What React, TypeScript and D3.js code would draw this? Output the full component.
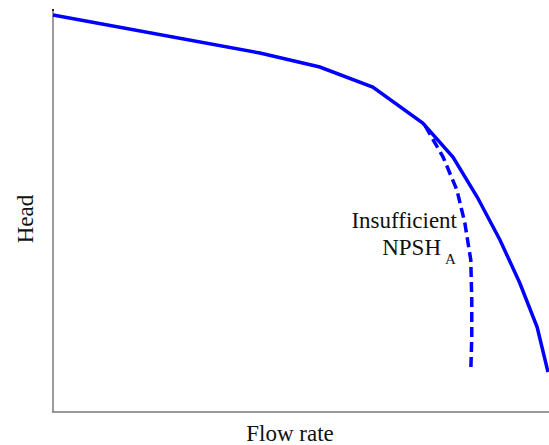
import React from "react";
import * as d3 from "d3";

// Pump head curve (normalised units, 0–100)
const flowSolid = [0, 41.8, 53.9, 64.6, 74.7, 80.8, 85.7, 90.3, 94.3, 97.8, 100];
const headSolid = [99.25, 89.75, 86.25, 81.25, 72.25, 63.75, 53.75, 43, 32.25, 21.25, 10];

// Head curve breaking away when available NPSH is insufficient
const flowDashed = [75.2, 78.8, 81.6, 83.2, 84.4, 84.6, 84.6, 84.4];
const headDashed = [71.5, 63.75, 55.5, 47.25, 38, 28, 18.75, 10];

const W = 549;
const H = 445;
const left = 53;
const right = 548;
const top = 12;
const bottom = 412;

export default function App() {
  const x = d3.scaleLinear().domain([0, 100]).range([left, right]);
  const y = d3.scaleLinear().domain([0, 100]).range([bottom, top]);
  const line = d3
    .line<[number, number]>()
    .x((d) => x(d[0]))
    .y((d) => y(d[1]));
  const solid = flowSolid.map((f, i) => [f, headSolid[i]] as [number, number]);
  const dashed = flowDashed.map((f, i) => [f, headDashed[i]] as [number, number]);
  const font = "'Liberation Serif', 'Times New Roman', serif";

  return (
    <svg
      width={W}
      height={H}
      style={{ position: "absolute", left: 0, top: 0, background: "#fff" }}
    >
      {/* axes */}
      <line x1={left} y1={9} x2={left} y2={bottom} stroke="#7a7a7a" strokeWidth={1.5} />
      <line x1={left - 1} y1={bottom} x2={W} y2={bottom} stroke="#7a7a7a" strokeWidth={1.5} />
      <line x1={left} y1={9} x2={left} y2={11} stroke="#000" strokeWidth={1.5} />

      <path
        d={line(dashed) ?? ""}
        fill="none"
        stroke="#0000ff"
        strokeWidth={3.5}
        strokeDasharray="10 5"
      />
      <path d={line(solid) ?? ""} fill="none" stroke="#0000ff" strokeWidth={3.5} />

      <text x={457} y={228} textAnchor="end" fontFamily={font} fontSize={23} fill="#111">
        Insufficient
      </text>
      <text x={441} y={255} textAnchor="end" fontFamily={font} fontSize={23} fill="#111">
        NPSH
      </text>
      <text x={445} y={264} fontFamily={font} fontSize={15} fill="#111">
        A
      </text>

      <text x={290} y={441} textAnchor="middle" fontFamily={font} fontSize={23} fill="#111">
        Flow rate
      </text>
      <text
        transform="translate(33,219) rotate(-90)"
        textAnchor="middle"
        fontFamily={font}
        fontSize={23}
        fill="#111"
      >
        Head
      </text>
    </svg>
  );
}
